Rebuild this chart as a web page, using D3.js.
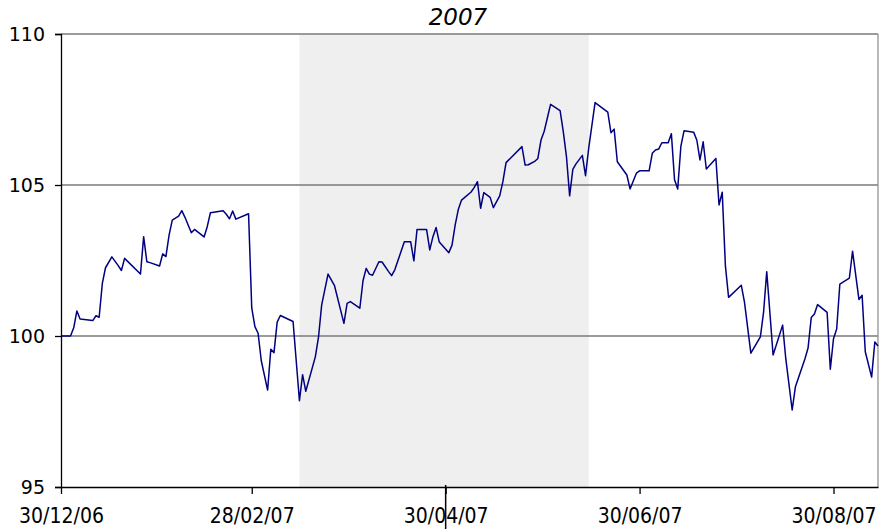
<!DOCTYPE html>
<html>
<head>
<meta charset="utf-8">
<script src="https://cdn.jsdelivr.net/npm/d3@7"></script>
<style>
  html, body { margin: 0; padding: 0; background: #fff; }
</style>
</head>
<body>
<div class="chart"></div>
<script>
// Paramètres de visualisation
const width = 882;
const height = 529;
const margin = { top: 34, right: 4, bottom: 42, left: 61 };

// Données : dates et valeurs de l'indice
const dates = [
    "2006-12-30", "2007-01-02", "2007-01-03", "2007-01-04", "2007-01-05", "2007-01-09", "2007-01-10", "2007-01-11",
    "2007-01-12", "2007-01-13", "2007-01-15", "2007-01-17", "2007-01-18", "2007-01-19", "2007-01-24", "2007-01-25",
    "2007-01-26", "2007-01-27", "2007-01-30", "2007-01-31", "2007-02-01", "2007-02-02", "2007-02-03", "2007-02-05",
    "2007-02-06", "2007-02-07", "2007-02-09", "2007-02-10", "2007-02-13", "2007-02-14", "2007-02-15", "2007-02-19",
    "2007-02-20", "2007-02-21", "2007-02-22", "2007-02-23", "2007-02-27", "2007-02-28", "2007-03-01", "2007-03-02",
    "2007-03-03", "2007-03-05", "2007-03-06", "2007-03-07", "2007-03-08", "2007-03-09", "2007-03-13", "2007-03-15",
    "2007-03-16", "2007-03-17", "2007-03-20", "2007-03-21", "2007-03-22", "2007-03-24", "2007-03-26", "2007-03-29",
    "2007-03-30", "2007-03-31", "2007-04-03", "2007-04-04", "2007-04-05", "2007-04-06", "2007-04-07", "2007-04-09",
    "2007-04-10", "2007-04-12", "2007-04-13", "2007-04-14", "2007-04-17", "2007-04-19", "2007-04-20", "2007-04-21",
    "2007-04-24", "2007-04-25", "2007-04-26", "2007-04-27", "2007-04-28", "2007-05-01", "2007-05-02", "2007-05-03",
    "2007-05-04", "2007-05-05", "2007-05-08", "2007-05-09", "2007-05-10", "2007-05-11", "2007-05-12", "2007-05-14",
    "2007-05-15", "2007-05-17", "2007-05-18", "2007-05-19", "2007-05-24", "2007-05-25", "2007-05-26", "2007-05-28",
    "2007-05-29", "2007-05-30", "2007-05-31", "2007-06-02", "2007-06-05", "2007-06-06", "2007-06-07", "2007-06-08",
    "2007-06-09", "2007-06-10", "2007-06-12", "2007-06-13", "2007-06-14", "2007-06-16", "2007-06-20", "2007-06-21",
    "2007-06-22", "2007-06-23", "2007-06-26", "2007-06-27", "2007-06-29", "2007-06-30", "2007-07-03", "2007-07-04",
    "2007-07-05", "2007-07-06", "2007-07-07", "2007-07-09", "2007-07-10", "2007-07-11", "2007-07-12", "2007-07-13",
    "2007-07-14", "2007-07-17", "2007-07-18", "2007-07-19", "2007-07-20", "2007-07-21", "2007-07-24", "2007-07-25",
    "2007-07-26", "2007-07-27", "2007-07-28", "2007-08-01", "2007-08-02", "2007-08-04", "2007-08-07", "2007-08-08",
    "2007-08-09", "2007-08-10", "2007-08-11", "2007-08-14", "2007-08-15", "2007-08-17", "2007-08-18", "2007-08-21",
    "2007-08-22", "2007-08-23", "2007-08-24", "2007-08-25", "2007-08-28", "2007-08-29", "2007-08-30", "2007-08-31",
    "2007-09-01", "2007-09-04", "2007-09-05", "2007-09-07", "2007-09-08", "2007-09-09", "2007-09-11", "2007-09-12",
    "2007-09-13"
];

const values = [
    100.00, 100.00, 100.27, 100.83, 100.56, 100.51, 100.67, 100.62,
    101.74, 102.26, 102.62, 102.33, 102.17, 102.57, 102.05, 103.29,
    102.46, 102.43, 102.32, 102.72, 102.63, 103.34, 103.84, 103.97,
    104.15, 103.93, 103.42, 103.53, 103.28, 103.62, 104.08, 104.15,
    104.03, 103.88, 104.14, 103.87, 104.05, 100.93, 100.31, 100.09,
    99.18, 98.21, 99.56, 99.45, 100.46, 100.68, 100.48, 97.86,
    98.72, 98.17, 99.31, 99.96, 101.03, 102.05, 101.68, 100.42,
    101.08, 101.14, 100.92, 101.83, 102.24, 102.05, 102.01, 102.46,
    102.45, 102.14, 102.00, 102.19, 103.12, 103.12, 102.49, 103.53,
    103.53, 102.85, 103.29, 103.59, 103.11, 102.76, 103.01, 103.68,
    104.20, 104.50, 104.77, 104.92, 105.11, 104.23, 104.75, 104.59,
    104.25, 104.64, 105.11, 105.74, 106.27, 105.66, 105.67, 105.78,
    105.88, 106.49, 106.78, 107.67, 107.46, 106.77, 105.94, 104.64,
    105.52, 105.70, 105.98, 105.31, 106.22, 107.73, 107.41, 106.73,
    106.85, 105.77, 105.33, 104.87, 105.39, 105.47, 105.47, 106.05,
    106.16, 106.19, 106.40, 106.40, 106.70, 105.17, 104.87, 106.29,
    106.80, 106.75, 106.49, 105.83, 106.43, 105.53, 105.88, 104.34,
    104.76, 102.32, 101.28, 101.68, 101.12, 99.43, 99.97, 100.78,
    102.13, 100.76, 99.37, 100.36, 99.24, 97.55, 98.31, 99.24,
    99.60, 100.61, 100.73, 101.04, 100.78, 98.90, 99.91, 100.23,
    101.72, 101.92, 102.81, 101.21, 101.35, 99.48, 98.64, 99.80,
    99.67
];

// Graduations et zone grisée
const yTicks = [95, 100, 105, 110];
const gridValues = [100, 105, 110];
const xTicks = ["2006-12-30", "2007-02-28", "2007-04-30", "2007-06-30", "2007-08-30"];
const xDomain = ["2006-12-30", "2007-09-13"];
const band = ["2007-03-15", "2007-06-14"];
const markerDate = "2007-04-30";
const title = "2007";

const parseDate = d3.utcParse("%Y-%m-%d");

function setup() {
    const data = dates.map((d, i) => ({ date: parseDate(d), value: values[i] }));

    const svg = d3.select(".chart")
    .append("svg")
    .attr("width", width)
    .attr("height", height)
    .style("display", "block");

    // Echelles
    const x = d3.scaleUtc()
    .domain(xDomain.map(parseDate))
    .range([margin.left, width - margin.right]);

    const y = d3.scaleLinear()
    .domain([95, 110])
    .range([height - margin.bottom, margin.top]);

    // Zone grisée
    svg.append("rect")
    .attr("x", x(parseDate(band[0])))
    .attr("y", margin.top)
    .attr("width", x(parseDate(band[1])) - x(parseDate(band[0])))
    .attr("height", y(95) - y(110))
    .attr("fill", "#efefef");

    // Lignes de grille
    svg.append("g")
    .selectAll("line")
    .data(gridValues)
    .join("line")
    .attr("x1", margin.left)
    .attr("x2", width - margin.right)
    .attr("y1", d => y(d))
    .attr("y2", d => y(d))
    .attr("stroke", "#7a7a7a")
    .attr("stroke-width", 1.4);

    // Bordure droite
    svg.append("line")
    .attr("x1", width - margin.right)
    .attr("x2", width - margin.right)
    .attr("y1", y(110))
    .attr("y2", y(95))
    .attr("stroke", "#8a8a8a")
    .attr("stroke-width", 1.2);

    // Courbe
    const line = d3.line()
    .x(d => x(d.date))
    .y(d => y(d.value));

    svg.append("path")
    .datum(data)
    .attr("fill", "none")
    .attr("stroke", "#000080")
    .attr("stroke-width", 1.5)
    .attr("stroke-linejoin", "round")
    .attr("d", line);

    // Axe vertical
    svg.append("g")
    .attr("transform", `translate(${margin.left}, 0)`)
    .call(d3.axisLeft(y).tickValues(yTicks).tickSize(6).tickPadding(10).tickFormat(d3.format("d")))
    .call(g => g.selectAll("path, line").attr("stroke", "#000").attr("stroke-width", 1.3))
    .call(g => g.selectAll("text")
        .attr("fill", "#000")
        .style("font", "19px 'DejaVu Sans', sans-serif"));

    // Axe horizontal
    svg.append("g")
    .attr("transform", `translate(0, ${y(95)})`)
    .call(d3.axisBottom(x).tickValues(xTicks.map(parseDate)).tickSize(7).tickSizeOuter(0).tickFormat(d3.utcFormat("%d/%m/%y")))
    .call(g => g.selectAll("path, line").attr("stroke", "#000").attr("stroke-width", 1.3))
    .call(g => g.selectAll("text")
        .attr("fill", "#000")
        .attr("y", 36)
        .attr("dy", 0)
        .style("font-family", "'DejaVu Sans Condensed', 'DejaVu Sans', sans-serif")
        .style("font-stretch", "condensed")
        .style("font-size", "21px"));

    // Trait vertical sous l'axe
    svg.append("line")
    .attr("x1", x(parseDate(markerDate)))
    .attr("x2", x(parseDate(markerDate)))
    .attr("y1", y(95) - 2)
    .attr("y2", height)
    .attr("stroke", "#000")
    .attr("stroke-width", 1.5);

    // Titre
    svg.append("text")
    .attr("x", 458)
    .attr("y", 25)
    .attr("text-anchor", "middle")
    .style("font", "italic 23px 'DejaVu Sans', sans-serif")
    .text(title);
}

setup();
</script>
</body>
</html>
